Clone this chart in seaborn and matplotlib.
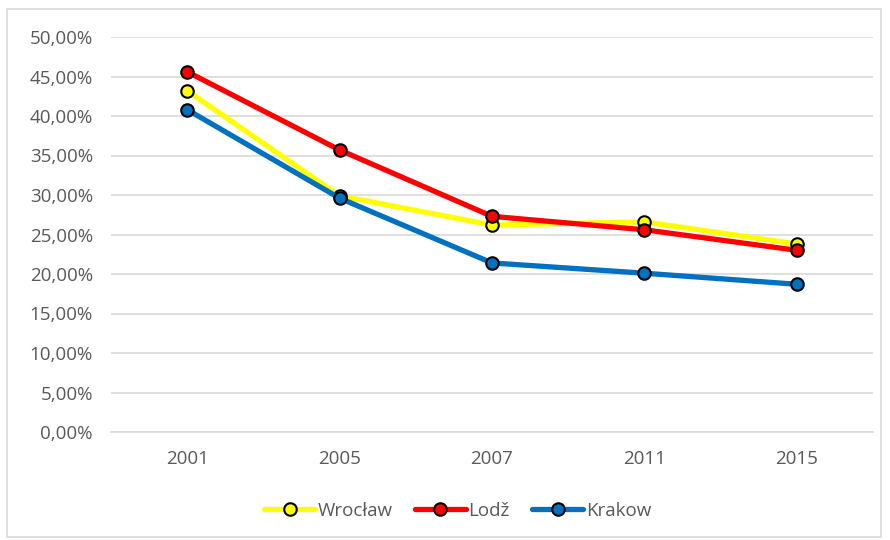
import pandas as pd
import seaborn as sns
import matplotlib.pyplot as plt
from matplotlib.ticker import FuncFormatter
from matplotlib.patches import Rectangle

years = ['2001', '2005', '2007', '2011', '2015']
wroclaw = [43.2, 29.9, 26.2, 26.6, 23.8]
lodz = [45.6, 35.7, 27.3, 25.6, 23.0]
krakow = [40.8, 29.6, 21.4, 20.1, 18.7]
cities = ['Wrocław', 'Lodž', 'Krakow']
colors = ['#FFFF00', '#FF0000', '#0070C0']

df = pd.DataFrame({
    'year': years * 3,
    'value': wroclaw + lodz + krakow,
    'city': [c for c in cities for _ in years],
})

sns.set_theme(style="white")
plt.rcParams['font.family'] = ['Open Sans', 'DejaVu Sans']

fig = plt.figure(figsize=(8.9, 5.4), dpi=100)
ax = fig.add_axes([111 / 890, 1 - 432 / 540, 762 / 890, 395 / 540])

# outer chart border
fig.patches.append(Rectangle((7 / 890, 3 / 540), 874 / 890, 528 / 540,
                             transform=fig.transFigure, fill=False,
                             edgecolor='#D9D9D9', linewidth=1.2))

sns.lineplot(data=df, x='year', y='value', hue='city', palette=colors,
             marker='o', markersize=9, markeredgecolor='black',
             markeredgewidth=1.5, linewidth=3.8, sort=False, ax=ax)

ax.set_ylim(0, 50)
ax.set_yticks(range(0, 51, 5))
ax.set_xlim(-0.5, 4.5)
ax.yaxis.set_major_formatter(FuncFormatter(lambda v, p: f'{v:.2f}%'.replace('.', ',')))
ax.grid(axis='y', color='#D9D9D9', linewidth=1.2)
ax.set_axisbelow(True)
for s in ['top', 'right', 'left']:
    ax.spines[s].set_visible(False)
ax.spines['bottom'].set_color('#D9D9D9')
ax.spines['bottom'].set_linewidth(1.2)
ax.tick_params(axis='both', colors='#595959', labelsize=13.5, length=0)
ax.tick_params(axis='y', pad=13)
ax.tick_params(axis='x', pad=13)
ax.set_xlabel('')
ax.set_ylabel('')

leg = ax.legend(loc='center', bbox_to_anchor=(0.455, -0.2), ncol=3,
                frameon=False, fontsize=13.5, handlelength=2.7,
                columnspacing=1.2, handletextpad=0.15)
for t in leg.get_texts():
    t.set_color('#595959')

fig.savefig('out.png', dpi=100)
